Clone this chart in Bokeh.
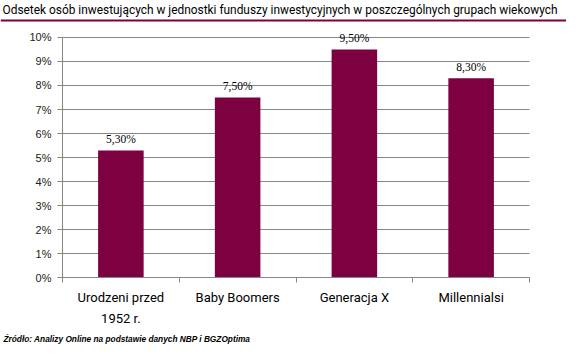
from bokeh.plotting import figure
from bokeh.models import (ColumnDataSource, FixedTicker, Title, LinearAxis,
                          Range1d, BoxAnnotation)
from bokeh.embed import file_html
from bokeh.resources import INLINE

categories = ["Urodzeni przed\n1952 r.", "Baby Boomers", "Generacja X", "Millennialsi"]
values = [5.30, 7.50, 9.50, 8.30]
y_ticks = [0, 1, 2, 3, 4, 5, 6, 7, 8, 9, 10]
y_tick_labels = [f"{t}%" for t in y_ticks]
title_text = "Odsetek osób inwestujących w jednostki funduszy inwestycyjnych w poszczególnych grupach wiekowych"
source_text = "Źródło: Analizy Online na podstawie danych NBP i BGZOptima"

MAROON = "#7D0040"
GRAY = "#868686"
W, H = 566, 345
PL, PR = 62, 529          # plot-area left/right (canvas px)
FT, FB = 16, 331          # frame top/bottom (canvas px)
Y10, Y0 = 36, 278         # canvas y of 10% and 0%
RULE_T, RULE_B = 18, 20   # maroon rule (canvas px)
N = len(categories)
ppx = (PR - PL) / N       # px per category
ppy = (Y0 - Y10) / 10     # px per percent

xs = [i + 0.5 for i in range(N)]
labels = [f"{v:.2f}%".replace(".", ",") for v in values]
src = ColumnDataSource(dict(x=xs, top=values, label=labels))

p = figure(width=W, height=H, output_backend="svg", toolbar_location=None,
           x_range=Range1d(-PL / ppx, N + (W - PR) / ppx),
           y_range=Range1d(-(FB - Y0) / ppy, (Y0 - FT) / ppy),
           x_axis_location=None, y_axis_location=None,
           min_border_left=0, min_border_right=0, min_border_top=FT,
           min_border_bottom=H - FB)
p.outline_line_color = None
p.background_fill_color = "white"
p.border_fill_color = "white"

p.vbar(x="x", top="top", width=0.39, bottom=0, source=src,
       fill_color=MAROON, line_color=None)
p.text(x="x", y="top", text="label", source=src, text_align="center",
       text_baseline="bottom", y_offset=-5, text_font_size="11.5px",
       text_color="#000000", text_font="Liberation Sans")

xa = LinearAxis(fixed_location=0, bounds=(0, N),
                ticker=FixedTicker(ticks=xs, minor_ticks=list(range(N + 1))),
                major_label_overrides={x: c for x, c in zip(xs, categories)},
                major_tick_out=0, major_tick_in=0,
                minor_tick_out=5, minor_tick_in=0, minor_tick_line_color=GRAY,
                axis_line_color=GRAY, major_label_standoff=7,
                major_label_text_font="Roboto",
                major_label_text_font_size="13px",
                major_label_text_line_height=1.4,
                major_label_text_color="#000000")
p.add_layout(xa, "below")

ya = LinearAxis(fixed_location=0, bounds=(0, 10),
                ticker=FixedTicker(ticks=y_ticks, minor_ticks=[]),
                major_label_overrides={t: l for t, l in zip(y_ticks, y_tick_labels)},
                major_tick_out=5, major_tick_in=0, major_tick_line_color=GRAY,
                minor_tick_out=0, minor_tick_in=0,
                axis_line_color=GRAY, major_label_standoff=6,
                major_label_text_font="Liberation Sans",
                major_label_text_font_size="11px",
                major_label_text_color="#222222")
p.add_layout(ya, "left")
p.xgrid.grid_line_color = None
p.ygrid.ticker = FixedTicker(ticks=y_ticks)
p.ygrid.grid_line_color = GRAY
p.ygrid.cross_bounds = (0, N)

# maroon rule under the title, across the whole width
p.add_layout(BoxAnnotation(top=(Y0 - RULE_T) / ppy, bottom=(Y0 - RULE_B) / ppy,
                           fill_color=MAROON, fill_alpha=1, line_color=None))

p.add_layout(Title(text=title_text, align="left", offset=2,
                   text_font="Roboto", text_font_size="11.9px",
                   text_font_style="normal", text_color="#000000",
                   standoff=1), "above")

p.add_layout(Title(text=source_text, align="left", offset=3,
                   text_font="Liberation Sans", text_font_size="8.3px",
                   text_font_style="bold italic", text_color="#000000",
                   standoff=3), "below")

open("out.html", "w").write(file_html(p, INLINE))
